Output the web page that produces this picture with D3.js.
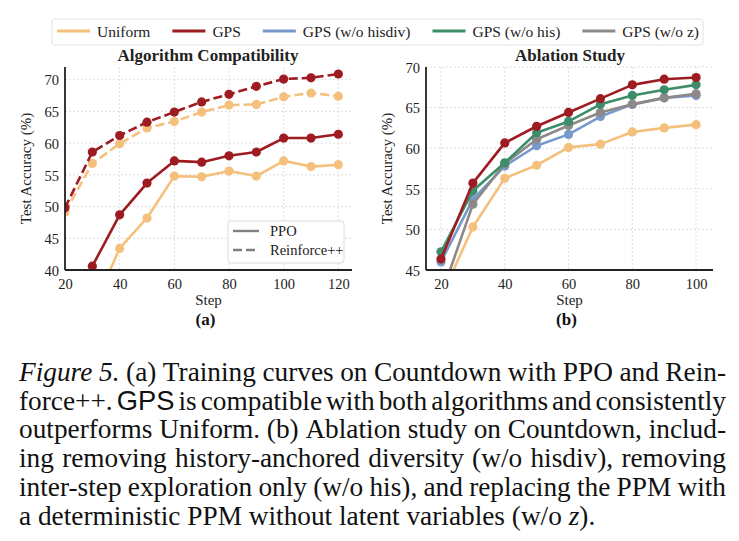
<!DOCTYPE html>
<html>
<head>
<meta charset="utf-8">
<script src="https://cdn.jsdelivr.net/npm/d3@7"></script>
<style>
  body { margin: 0; background: #fff; }
  svg { display: block; font-family: "Liberation Serif", "DejaVu Serif", serif; }
</style>
</head>
<body>
<div class="chart"></div>
<script>
// ---- data ----
const legendNames = ['Uniform', 'GPS', 'GPS (w/o hisdiv)', 'GPS (w/o his)', 'GPS (w/o z)'];

const stepsA = [20, 30, 40, 50, 60, 70, 80, 90, 100, 110, 120];
const uniformPPO = [28.0, 33.7, 43.4, 48.2, 54.8, 54.7, 55.6, 54.8, 57.2, 56.3, 56.6];
const gpsPPO = [32.0, 40.6, 48.7, 53.7, 57.2, 57.0, 58.0, 58.6, 60.8, 60.8, 61.4];
const uniformRpp = [49.1, 56.8, 59.9, 62.4, 63.4, 64.9, 66.0, 66.1, 67.3, 67.9, 67.4];
const gpsRpp = [49.8, 58.6, 61.2, 63.3, 64.9, 66.5, 67.7, 68.95, 70.1, 70.3, 70.9];

const stepsB = [20, 30, 40, 50, 60, 70, 80, 90, 100];
const uniformB = [41.6, 50.3, 56.3, 57.9, 60.1, 60.5, 62.0, 62.5, 62.9];
const gpsB = [46.35, 55.7, 60.65, 62.7, 64.4, 66.1, 67.8, 68.5, 68.7];
const hisdivB = [46.0, 53.7, 57.8, 60.3, 61.7, 63.9, 65.4, 66.2, 66.5];
const hisB = [47.25, 54.75, 58.2, 61.9, 63.3, 65.4, 66.5, 67.2, 67.8];
const noZB = [41.8, 53.1, 58.1, 61.1, 62.8, 64.4, 65.4, 66.2, 66.7];

const xTicksA = [20, 40, 60, 80, 100, 120];
const yTicksA = [40, 45, 50, 55, 60, 65, 70];
const xTicksB = [20, 40, 60, 80, 100];
const yTicksB = [45, 50, 55, 60, 65, 70];

const colors = {
  uniform: '#F4C07C',
  gps: '#9E1C21',
  hisdiv: '#7799CC',
  his: '#3E8D6A',
  noz: '#8E8989'
};
const legendColors = [colors.uniform, colors.gps, colors.hisdiv, colors.his, colors.noz];

const W = 739, H = 541;
const svg = d3.select('.chart').append('svg')
  .attr('width', W)
  .attr('height', H);

// ---- top legend ----
const leg = svg.append('g');
leg.append('rect')
  .attr('x', 52).attr('y', 19).attr('width', 651).attr('height', 26)
  .attr('rx', 3)
  .style('fill', '#fff').style('stroke', '#e2e2e2').style('stroke-width', 1);
let lx = 57;
legendNames.forEach((name, i) => {
  leg.append('line')
    .attr('x1', lx).attr('x2', lx + 33).attr('y1', 31).attr('y2', 31)
    .style('stroke', legendColors[i]).style('stroke-width', 2.8);
  const t = leg.append('text')
    .attr('x', lx + 40).attr('y', 36.5)
    .style('font-size', '15.5px').style('fill', '#222')
    .text(name);
  lx += 40 + t.node().getComputedTextLength() + 22;
});

// ---- panel helper ----
function panel(opt) {
  const g = svg.append('g');
  const x = d3.scaleLinear().domain(opt.xDomain).range([opt.left, opt.right]);
  const y = d3.scaleLinear().domain(opt.yDomain).range([opt.bottom, opt.top]);

  // grid
  g.append('g').selectAll('line').data(opt.xTicks).join('line')
    .attr('x1', d => x(d)).attr('x2', d => x(d))
    .attr('y1', opt.top).attr('y2', opt.bottom)
    .style('stroke', '#d4d4d4').style('stroke-width', 0.8).style('stroke-dasharray', '2,2');
  g.append('g').selectAll('line').data(opt.yTicks).join('line')
    .attr('x1', opt.left).attr('x2', opt.right)
    .attr('y1', d => y(d)).attr('y2', d => y(d))
    .style('stroke', '#d4d4d4').style('stroke-width', 0.8).style('stroke-dasharray', '2,2');

  const clipId = 'clip' + opt.id;
  svg.append('clipPath').attr('id', clipId)
    .append('rect')
    .attr('x', opt.left).attr('y', opt.top - 6)
    .attr('width', opt.right - opt.left + 6).attr('height', opt.bottom - opt.top + 6);

  const plot = g.append('g').attr('clip-path', `url(#${clipId})`);
  const line = d3.line().x(d => x(d[0])).y(d => y(d[1]));
  opt.series.forEach(s => {
    const pts = opt.steps.map((st, i) => [st, s.values[i]]);
    plot.append('path')
      .datum(pts)
      .attr('d', line)
      .style('fill', 'none')
      .style('stroke', s.color)
      .style('stroke-width', 2.6)
      .style('stroke-dasharray', s.dashed ? '9,4' : null)
      .style('stroke-linejoin', 'round');
    plot.append('g').selectAll('circle').data(pts).join('circle')
      .attr('cx', d => x(d[0])).attr('cy', d => y(d[1]))
      .attr('r', 4.6)
      .style('fill', s.color);
  });

  // axes (no tick marks, seaborn style)
  const xAxis = d3.axisBottom(x).tickValues(opt.xTicks).tickSize(0).tickPadding(9);
  const yAxis = d3.axisLeft(y).tickValues(opt.yTicks).tickSize(0).tickPadding(6);
  const gx = g.append('g').attr('transform', `translate(0, ${opt.bottom})`).call(xAxis);
  const gy = g.append('g').attr('transform', `translate(${opt.left}, 0)`).call(yAxis);
  [gx, gy].forEach(a => {
    a.select('.domain').remove();
    a.selectAll('text')
      .style('font-family', '"Liberation Serif", serif')
      .style('font-size', '14.5px')
      .style('fill', '#222');
  });
  gy.selectAll('text').attr('dy', '0.36em');

  // spines
  g.append('line')
    .attr('x1', opt.left).attr('x2', opt.left).attr('y1', opt.top).attr('y2', opt.bottom)
    .style('stroke', '#222').style('stroke-width', 1.8);
  g.append('line')
    .attr('x1', opt.left).attr('x2', opt.right).attr('y1', opt.bottom).attr('y2', opt.bottom)
    .style('stroke', '#222').style('stroke-width', 1.8);

  const cx = (opt.left + opt.right) / 2;
  g.append('text')
    .attr('x', opt.titleX).attr('y', 61)
    .attr('text-anchor', 'middle')
    .style('font-size', '17px').style('font-weight', 'bold').style('fill', '#222')
    .text(opt.title);
  g.append('text')
    .attr('x', cx).attr('y', 305)
    .attr('text-anchor', 'middle')
    .style('font-size', '15px').style('fill', '#222')
    .text('Step');
  g.append('text')
    .attr('x', cx - 3).attr('y', 325)
    .attr('text-anchor', 'middle')
    .style('font-size', '17px').style('font-weight', 'bold').style('fill', '#111')
    .text(opt.tag);
  g.append('text')
    .attr('transform', `translate(${opt.labelX}, ${(opt.top + opt.bottom) / 2}) rotate(-90)`)
    .attr('text-anchor', 'middle')
    .style('font-size', '15px').style('fill', '#222')
    .text('Test Accuracy (%)');

  return { g, x, y };
}

// ---- (a) Algorithm Compatibility ----
const pa = panel({
  id: 'a', left: 65, right: 352, top: 67, bottom: 270,
  xDomain: [20, 125], yDomain: [40, 72],
  xTicks: xTicksA, yTicks: yTicksA, steps: stepsA,
  title: 'Algorithm Compatibility', titleX: 208, tag: '(a)', labelX: 31,
  series: [
    { values: uniformPPO, color: colors.uniform },
    { values: gpsPPO, color: colors.gps },
    { values: uniformRpp, color: colors.uniform, dashed: true },
    { values: gpsRpp, color: colors.gps, dashed: true }
  ]
});

// inner legend for algorithm line style
const il = pa.g.append('g');
il.append('rect')
  .attr('x', 228).attr('y', 221).attr('width', 116).attr('height', 42)
  .attr('rx', 3)
  .style('fill', '#fff').style('stroke', '#dcdcdc').style('stroke-width', 1);
[['PPO', null, 231], ['Reinforce++', '9,4', 250]].forEach(r => {
  il.append('line')
    .attr('x1', 233).attr('x2', 259).attr('y1', r[2]).attr('y2', r[2])
    .style('stroke', '#808080').style('stroke-width', 2.4)
    .style('stroke-dasharray', r[1]);
  il.append('text')
    .attr('x', 270).attr('y', r[2] + 5)
    .style('font-size', '14.5px').style('fill', '#222')
    .text(r[0]);
});

// ---- (b) Ablation Study ----
panel({
  id: 'b', left: 426, right: 713, top: 67, bottom: 270,
  xDomain: [15.3, 105.3], yDomain: [45, 70],
  xTicks: xTicksB, yTicks: yTicksB, steps: stepsB,
  title: 'Ablation Study', titleX: 570, tag: '(b)', labelX: 392,
  series: [
    { values: uniformB, color: colors.uniform },
    { values: hisdivB, color: colors.hisdiv },
    { values: noZB, color: colors.noz },
    { values: hisB, color: colors.his },
    { values: gpsB, color: colors.gps }
  ]
});

// ---- caption (justified) ----
const I = 'i', S = 's', R = 'r';
const captionLines = [
  [[['Figure 5.', I]], '(a) Training curves on Countdown with PPO and Rein-'],
  ['force++.', [['GPS', S]], 'is compatible with both algorithms and consistently'],
  ['outperforms Uniform. (b) Ablation study on Countdown, includ-'],
  ['ing removing history-anchored diversity (w/o hisdiv), removing'],
  ['inter-step exploration only (w/o his), and replacing the PPM with'],
  ['a deterministic PPM without latent variables (w/o', [['z', I], [').', R]]]
];
const capLeft = 19, capRight = 726, capTop = 381, capStep = 28.7, capSize = 27.3;

captionLines.forEach((ln, li) => {
  // expand into words, each word = list of [text, style] parts
  const words = [];
  ln.forEach(seg => {
    if (typeof seg === 'string') seg.split(' ').forEach(w => words.push([[w, R]]));
    else words.push(seg);
  });
  const yy = capTop + li * capStep;
  const nodes = words.map(parts => {
    const t = svg.append('text').attr('y', yy)
      .style('font-size', capSize + 'px').style('fill', '#111');
    parts.forEach(p => {
      const ts = t.append('tspan').text(p[0]);
      if (p[1] === I) ts.style('font-style', 'italic');
      if (p[1] === S) ts.style('font-family', '"Liberation Sans", Arial, sans-serif');
    });
    return t;
  });
  const widths = nodes.map(n => n.node().getComputedTextLength());
  const total = d3.sum(widths);
  const last = li === captionLines.length - 1;
  const gap = last ? capSize * 0.25 : (capRight - capLeft - total) / (nodes.length - 1);
  let cx = capLeft;
  nodes.forEach((n, i) => {
    n.attr('x', cx);
    cx += widths[i] + gap;
  });
});
</script>
</body>
</html>
